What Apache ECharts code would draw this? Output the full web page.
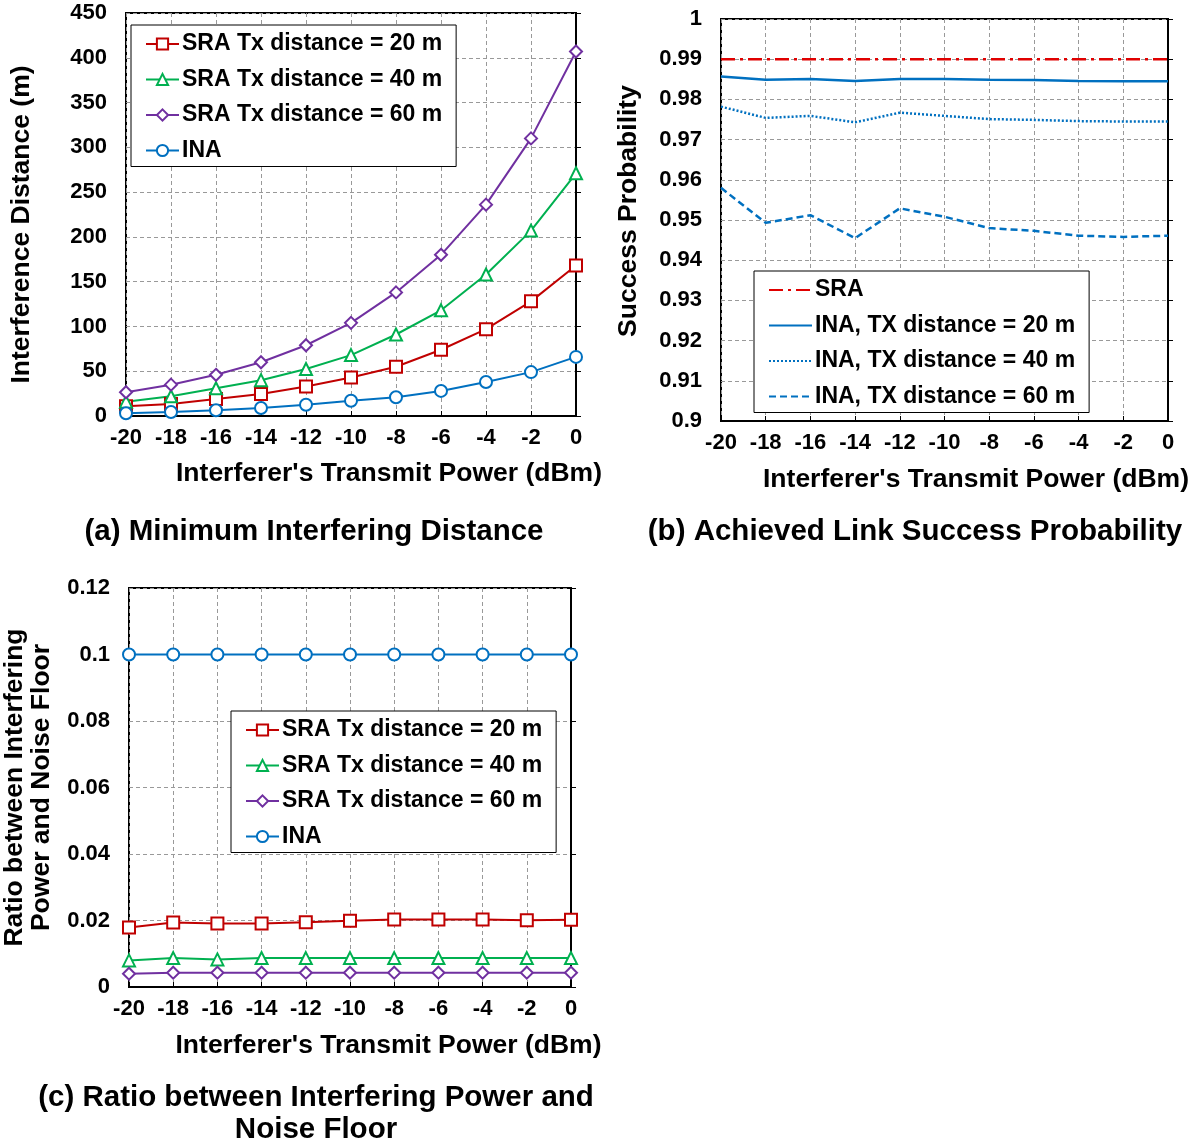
<!DOCTYPE html>
<html>
<head>
<meta charset="utf-8">
<script src="https://cdn.jsdelivr.net/npm/echarts@6/dist/echarts.min.js"></script>
<style>
html,body{margin:0;padding:0;background:#fff;}
#chart{width:1195px;height:1145px;}
</style>
</head>
<body>
<div id="chart"></div>
<script>
// ---- data ----
const powerDbm = [-20, -18, -16, -14, -12, -10, -8, -6, -4, -2, 0];

const distSRA20 = [11, 13.5, 19, 24.5, 33, 43, 55, 74, 97, 128, 168];
const distSRA40 = [16, 22, 31, 40, 52.5, 68, 91, 118, 158, 207, 271];
const distSRA60 = [26.5, 35, 46, 60, 79, 104, 138, 180, 236, 310, 407];
const distINA   = [3, 4.5, 6.5, 9, 12.5, 17, 21, 28, 38, 49, 66];

const probSRA    = [0.99, 0.99, 0.99, 0.99, 0.99, 0.99, 0.99, 0.99, 0.99, 0.99, 0.99];
const probINA20  = [0.9857, 0.9849, 0.9851, 0.9846, 0.9851, 0.9851, 0.9849, 0.9848, 0.9846, 0.9845, 0.9845];
const probINA40  = [0.9782, 0.9754, 0.9759, 0.9743, 0.9767, 0.9759, 0.9751, 0.9749, 0.9746, 0.9745, 0.9745];
const probINA60  = [0.958, 0.9493, 0.9512, 0.9455, 0.9529, 0.9508, 0.948, 0.9473, 0.9461, 0.9458, 0.9461];

const ratioSRA20 = [0.0179, 0.0194, 0.0191, 0.0191, 0.0195, 0.0199, 0.0203, 0.0203, 0.0203, 0.0201, 0.0202];
const ratioSRA40 = [0.0080, 0.0087, 0.0083, 0.0087, 0.0087, 0.0087, 0.0087, 0.0087, 0.0087, 0.0087, 0.0087];
const ratioSRA60 = [0.0040, 0.0043, 0.0043, 0.0043, 0.0043, 0.0043, 0.0043, 0.0043, 0.0043, 0.0043, 0.0043];
const ratioINA   = [0.1, 0.1, 0.1, 0.1, 0.1, 0.1, 0.1, 0.1, 0.1, 0.1, 0.1];

const xAxisRange = [-20, 0, 2];
const distRange  = [0, 450, 50];
const probRange  = [0.9, 1, 0.01];
const ratioRange = [0, 0.12, 0.02];

const nameSRA20 = 'SRA Tx distance = 20 m';
const nameSRA40 = 'SRA Tx distance = 40 m';
const nameSRA60 = 'SRA Tx distance = 60 m';
const nameINA = 'INA';
const nameB = ['SRA', 'INA, TX distance = 20 m', 'INA, TX distance = 40 m', 'INA, TX distance = 60 m'];

const xName = "Interferer's Transmit Power (dBm)";
const captions = ['(a) Minimum Interfering Distance', '(b) Achieved Link Success Probability', '(c) Ratio between Interfering Power and\nNoise Floor'];

// ---- styles ----
const FONT = "'Liberation Sans', Arial, sans-serif";
const RED = '#C00000', GREEN = '#00B050', PURPLE = '#7030A0', BLUE = '#0070C0';
const TICK_FS = 22, NAME_FS = 26.5;

function pairs(vals) { return powerDbm.map((x, i) => [x, vals[i]]); }

function xAxis(gridIndex, nameGap, shift) {
  return {
    type: 'value', gridIndex, min: xAxisRange[0], max: xAxisRange[1], interval: xAxisRange[2],
    name: xName, nameLocation: 'middle', nameGap: nameGap,
    nameTextStyle: { fontFamily: FONT, fontWeight: 'bold', fontSize: NAME_FS, color: '#000', padding: [0, 0, 0, shift] },
    axisLine: { show: true, lineStyle: { color: '#000', width: 2 } },
    axisTick: { show: true, inside: true, length: 5, lineStyle: { color: '#000' } },
    axisLabel: { fontFamily: FONT, fontWeight: 'bold', fontSize: TICK_FS, color: '#000', margin: 11 },
    splitLine: { show: true, lineStyle: { color: '#999', type: [4, 3], width: 1 } }
  };
}
function yAxis(gridIndex, range, name, nameGap, pad) {
  return {
    type: 'value', gridIndex, min: range[0], max: range[1], interval: range[2],
    name: name, nameLocation: 'middle', nameGap: nameGap,
    nameTextStyle: { fontFamily: FONT, fontWeight: 'bold', fontSize: NAME_FS, color: '#000', padding: pad, lineHeight: 27 },
    axisLine: { show: true, lineStyle: { color: '#000', width: 2 } },
    axisTick: { show: true, inside: true, length: 5, lineStyle: { color: '#000' } },
    axisLabel: { fontFamily: FONT, fontWeight: 'bold', fontSize: TICK_FS, color: '#000', margin: 19 },
    splitLine: { show: true, lineStyle: { color: '#999', type: [4, 3], width: 1 } }
  };
}
function markerSeries(name, idx, vals, color, symbol) {
  return {
    name, type: 'line', xAxisIndex: idx, yAxisIndex: idx, data: pairs(vals),
    symbol, symbolSize: 12, showAllSymbol: true,
    lineStyle: { color, width: 2 },
    itemStyle: { color, borderColor: color, borderWidth: 2 },
    animation: false
  };
}
function plainSeries(name, vals, color, type) {
  return {
    name, type: 'line', xAxisIndex: 1, yAxisIndex: 1, data: pairs(vals),
    symbol: 'none', showSymbol: false,
    lineStyle: { color, width: 2.5, type },
    itemStyle: { color },
    animation: false
  };
}
function legend(left, top, names, itemWidth, hideSymbol) {
  const l = {
    left, top, orient: 'vertical', data: names,
    backgroundColor: '#fff', borderColor: '#000', borderWidth: 1,
    padding: [7, 14, 4, 14], itemGap: 11.5, itemWidth: itemWidth, itemHeight: 14,
    textStyle: { fontFamily: FONT, fontWeight: 'bold', fontSize: 23, color: '#000', lineHeight: 24, padding: [0, 0, 0, -2] },
    selectedMode: false
  };
  if (hideSymbol) l.itemStyle = { opacity: 0 };
  return l;
}
function caption(text, x, top) {
  return {
    text, left: x, top, textAlign: 'center', padding: 0,
    textStyle: { fontFamily: FONT, fontWeight: 'bold', fontSize: 29.5, color: '#000', lineHeight: 32 }
  };
}

const option = {
  backgroundColor: '#fff',
  animation: false,
  title: [
    caption(captions[0], 314, 516),
    caption(captions[1], 915, 516),
    caption(captions[2], 316, 1082)
  ],
  grid: [
    { left: 126, right: 619, top: 13, bottom: 729, show: true, borderColor: '#000', borderWidth: 2, containLabel: false },
    { left: 721, right: 27, top: 19, bottom: 724, show: true, borderColor: '#000', borderWidth: 2, containLabel: false },
    { left: 127, right: 624, top: 588, bottom: 158, show: true, borderColor: '#000', borderWidth: 2, containLabel: false }
  ],
  xAxis: [xAxis(0, 44, 76), xAxis(1, 45, 63), xAxis(2, 45, 77)],
  yAxis: [
    yAxis(0, distRange, 'Interference Distance (m)', 91, [0, 0, 0, -20]),
    yAxis(1, probRange, 'Success Probability', 79, [0, 0, 0, 18]),
    yAxis(2, ratioRange, 'Ratio between Interfering\nPower and Noise Floor', 74, [0, 0, 0, 0])
  ],
  legend: [
    legend(131, 25, [nameSRA20, nameSRA40, nameSRA60, nameINA], 33, false),
    legend(754, 271, nameB, 43, true),
    legend(231, 711, [nameSRA20, nameSRA40, nameSRA60, nameINA], 33, false)
  ],
  series: [
    markerSeries(nameSRA20, 0, distSRA20, RED, 'emptyRect'),
    markerSeries(nameSRA40, 0, distSRA40, GREEN, 'emptyTriangle'),
    markerSeries(nameSRA60, 0, distSRA60, PURPLE, 'emptyDiamond'),
    markerSeries(nameINA, 0, distINA, BLUE, 'emptyCircle'),

    plainSeries(nameB[0], probSRA, '#E00000', [14, 5, 3, 5]),
    plainSeries(nameB[1], probINA20, BLUE, 'solid'),
    plainSeries(nameB[2], probINA40, BLUE, [2, 2]),
    plainSeries(nameB[3], probINA60, BLUE, [7, 4]),

    markerSeries(nameSRA20, 2, ratioSRA20, RED, 'emptyRect'),
    markerSeries(nameSRA40, 2, ratioSRA40, GREEN, 'emptyTriangle'),
    markerSeries(nameSRA60, 2, ratioSRA60, PURPLE, 'emptyDiamond'),
    markerSeries(nameINA, 2, ratioINA, BLUE, 'emptyCircle')
  ]
};

const chart = echarts.init(document.getElementById('chart'), null, { renderer: 'canvas' });
chart.setOption(option);
</script>
</body>
</html>
